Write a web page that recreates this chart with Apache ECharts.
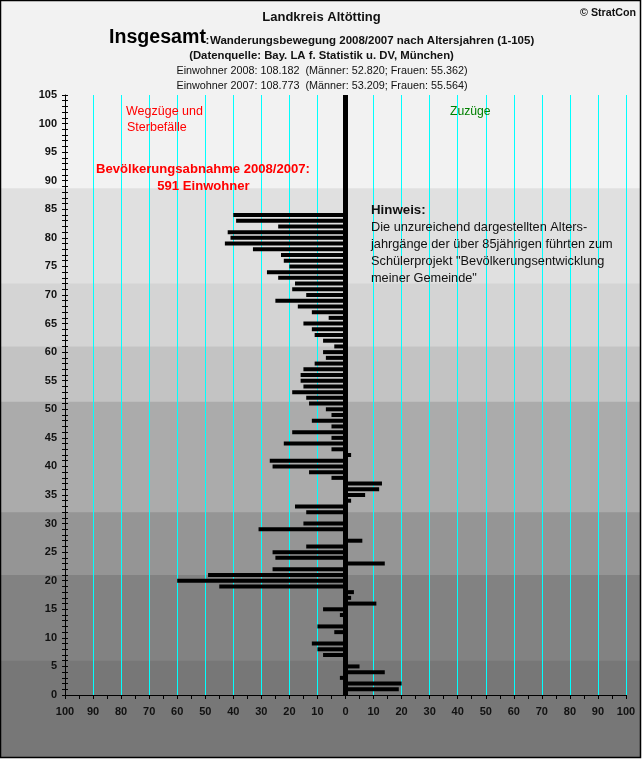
<!DOCTYPE html>
<html>
<head>
<meta charset="utf-8">
<style>
  html, body { margin: 0; padding: 0; background: #fff; }
  #chart { width: 642px; height: 759px; }
</style>
<script src="https://cdn.jsdelivr.net/npm/echarts@6/dist/echarts.min.js"></script>
</head>
<body>
<div id="chart"></div>
<script>
// Saldo je Altersjahr, Index = Alter (0-105), links Wegzuege, rechts Zuzuege
var saldo = [
  0, 19, 20, -2, 14, 5, 0, -8, -10, -12,
  0, -4, -10, 0, -2, -8, 11, 2, 3, -45,
  -60, -49, -26, 14, -25, -26, -14, 6, 0, -31,
  -15, 0, -14, -18, 2, 7, 12, 13, -5, -13,
  -26, -27, 2, -5, -22, -5, -19, -5, -12, -5,
  -7, -13, -14, -19, -15, -16, -16, -15, -11, -7,
  -8, -4, -8, -11, -12, -15, -6, -12, -17, -25,
  -14, -19, -18, -24, -28, -20, -22, -23, -33, -43,
  -41, -42, -24, -39, -40, 0, 0, 0, 0, 0,
  0, 0, 0, 0, 0, 0, 0, 0, 0, 0,
  0, 0, 0, 0, 0, 0
];
var ages = saldo.map(function (v, i) { return String(i); });

// Altersgruppen im Hintergrund (Grenzen in Altersjahren)
var bandEdges = [121.45, 88.7, 72, 61, 51.3, 32, 21, 6];
var bandBottom = -10.85;
var bandColors = ['#f2f2f2', '#e0e0e0', '#d4d4d4', '#c3c3c3', '#ababab', '#959595', '#828282', '#777777'];

// jede Flaeche reicht bis unten, die naechste malt drueber (keine Nahtstellen)
var bandAreas = bandColors.map(function (c, i) {
  return [
    { xAxis: 0, yAxis: bandEdges[i], itemStyle: { color: c, opacity: 1 } },
    { xAxis: 1, yAxis: bandBottom }
  ];
});

var FONT = '"Liberation Sans", Arial, sans-serif';

function txt(s, x, y, size, weight, color, align) {
  return {
    type: 'text', x: x, y: y, z: 50,
    style: {
      text: s, fontFamily: FONT, fontSize: size, fontWeight: weight,
      fill: color, align: align || 'left', verticalAlign: 'middle'
    }
  };
}

var chart = echarts.init(document.getElementById('chart'));

var option = {
  animation: false,
  backgroundColor: '#fff',
  grid: [
    { left: 65, right: 16, top: 95, bottom: 64, z: 3 },
    { left: 1, right: 1, top: 1, bottom: 2, z: 0 }
  ],
  xAxis: [
    {
      gridIndex: 0, type: 'value', min: -100, max: 100, interval: 10, z: 3,
      axisLine: { onZero: false, lineStyle: { color: '#000', width: 1 } },
      axisTick: { show: true, length: 4, lineStyle: { color: '#000' } },
      minorTick: { show: true, splitNumber: 2, length: 4, lineStyle: { color: '#000' } },
      splitLine: { show: true, lineStyle: { color: '#00ffff', width: 1 } },
      axisLabel: {
        color: '#111', fontFamily: FONT, fontSize: 11, fontWeight: 'bold', margin: 11,
        formatter: function (v) { return Math.abs(v); }
      }
    },
    { gridIndex: 1, type: 'value', min: 0, max: 1, show: false }
  ],
  yAxis: [
    {
      gridIndex: 0, type: 'category', data: ages, boundaryGap: false, z: 3,
      axisLine: { onZero: false, lineStyle: { color: '#000', width: 1 } },
      axisTick: { show: true, interval: 0, length: 3, lineStyle: { color: '#000' } },
      axisLabel: {
        interval: 4, color: '#111', fontFamily: FONT, fontSize: 11, fontWeight: 'bold', margin: 8
      },
      splitLine: { show: false }
    },
    {
      // zweite Achse nur fuer die nach innen zeigenden Ticks
      gridIndex: 0, type: 'value', min: 0, max: 105, interval: 1, position: 'left', z: 3,
      axisLine: { show: false, onZero: false },
      axisTick: { show: true, inside: true, length: 3, lineStyle: { color: '#000' } },
      axisLabel: { show: false },
      splitLine: { show: false }
    },
    { gridIndex: 1, type: 'value', min: -10.85, max: 121.45, show: false }
  ],
  series: [
    {
      type: 'line', xAxisIndex: 1, yAxisIndex: 2, z: 0, silent: true,
      data: [], symbol: 'none',
      markArea: { silent: true, data: bandAreas }
    },
    {
      name: 'Saldo', type: 'bar', xAxisIndex: 0, yAxisIndex: 0, z: 5,
      data: saldo, barWidth: 4,
      itemStyle: { color: '#000' },
      markLine: {
        silent: true, symbol: 'none', z: 5,
        label: { show: false },
        lineStyle: { color: '#000', width: 5, type: 'solid' },
        data: [{ xAxis: 0 }]
      }
    }
  ],
  graphic: [
    {
      type: 'rect', z: 60, silent: true,
      shape: { x: 0.5, y: 0.5, width: 640, height: 757 },
      style: { fill: 'none', stroke: '#000', lineWidth: 1.5 }
    },
    txt('Landkreis Altötting', 321.5, 17, 13, 'bold', '#111', 'center'),
    txt('© StratCon', 636, 13, 10.7, 'bold', '#111', 'right'),
    txt('Insgesamt', 109, 38, 19.6, 'bold', '#000'),
    txt(':', 205.5, 41, 11.5, 'bold', '#111'),
    txt('Wanderungsbewegung 2008/2007 nach Altersjahren (1-105)', 210, 40.5, 11.5, 'bold', '#111'),
    txt('(Datenquelle: Bay. LA f. Statistik u. DV, München)', 321.5, 56, 11.35, 'bold', '#111', 'center'),
    txt('Einwohner 2008: 108.182  (Männer: 52.820; Frauen: 55.362)', 322, 71, 10.8, 'normal', '#111', 'center'),
    txt('Einwohner 2007: 108.773  (Männer: 53.209; Frauen: 55.564)', 322, 86, 10.8, 'normal', '#111', 'center'),
    txt('Wegzüge und', 126, 111.5, 12.5, 'normal', '#ff0000'),
    txt('Sterbefälle', 127, 128, 12.5, 'normal', '#ff0000'),
    txt('Bevölkerungsabnahme 2008/2007:', 203, 169.5, 13.1, 'bold', '#ff0000', 'center'),
    txt('591 Einwohner', 203.5, 186.5, 13.1, 'bold', '#ff0000', 'center'),
    txt('Zuzüge', 450, 112, 12.2, 'normal', '#008000'),
    txt('Hinweis:', 371, 210.5, 13.3, 'bold', '#111'),
    txt('Die unzureichend dargestellten Alters-', 371, 227.5, 12.75, 'normal', '#111'),
    txt('jahrgänge der über 85jährigen führten zum', 371, 244.5, 12.75, 'normal', '#111'),
    txt('Schülerprojekt "Bevölkerungsentwicklung', 371, 261.5, 12.75, 'normal', '#111'),
    txt('meiner Gemeinde"', 371, 278.5, 12.75, 'normal', '#111')
  ]
};

chart.setOption(option);
</script>
</body>
</html>
